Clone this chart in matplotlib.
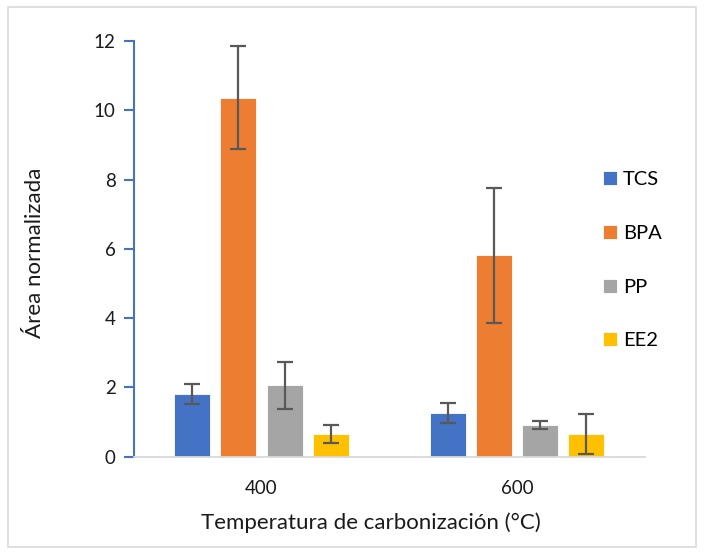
import matplotlib.pyplot as plt
import numpy as np
from matplotlib.patches import Rectangle

plt.rcParams["font.family"] = ["Lato", "DejaVu Sans"]

temperatures = ["400", "600"]
compounds = ["TCS", "BPA", "PP", "EE2"]
colors = ["#4472C4", "#ED7D31", "#A5A5A5", "#FFC000"]

# normalized area per compound, one value per temperature
tcs = [1.81, 1.26]
bpa = [10.37, 5.82]
pp = [2.06, 0.91]
ee2 = [0.66, 0.65]
values = [tcs, bpa, pp, ee2]

tcs_err = [0.29, 0.28]
bpa_err = [1.49, 1.95]
pp_err = [0.67, 0.12]
ee2_err = [0.25, 0.57]
errors = [tcs_err, bpa_err, pp_err, ee2_err]

text_col = "#1a1a1a"

fig = plt.figure(figsize=(7.04, 5.54), dpi=100)
ax = fig.add_axes([0.190, 0.1756, 0.726, 0.75])

x = np.arange(len(temperatures))
step = 0.181
width = 0.141
for i, (name, vals, errs, col) in enumerate(zip(compounds, values, errors, colors)):
    pos = x + (i - 1.5) * step
    ax.bar(pos, vals, width, color=col, label=name, edgecolor="white", linewidth=0.6, zorder=2)
    ax.errorbar(pos, vals, yerr=errs, fmt="none", ecolor="#595959", elinewidth=1.6,
                capsize=5.5, capthick=1.6, zorder=3)

ax.set_xlim(-0.5, 1.5)
ax.set_ylim(0, 12)
ax.set_yticks(range(0, 13, 2))
ax.set_xticks(x)
ax.set_xticklabels(temperatures)

for side in ("top", "right"):
    ax.spines[side].set_visible(False)
ax.spines["left"].set_color("#4472C4")
ax.spines["left"].set_linewidth(1.5)
ax.spines["bottom"].set_color("#D9D9D9")
ax.spines["bottom"].set_linewidth(1.3)
ax.tick_params(axis="y", colors="#4472C4", length=7, width=1.5, pad=6, labelsize=13.5, labelcolor=text_col)
ax.tick_params(axis="x", length=0, pad=17, labelsize=13.5, labelcolor=text_col)

ax.set_ylabel("Área normalizada", fontsize=16, color=text_col, va="center")
ax.yaxis.set_label_coords(-0.194, 0.49)
ax.set_xlabel("Temperatura de carbonización (°C)", fontsize=16, color=text_col, va="center")
ax.xaxis.set_label_coords(0.464, -0.159)

leg = ax.legend(loc="upper left", bbox_to_anchor=(0.902, 0.707), frameon=False, fontsize=14.5,
                handlelength=0.7, handleheight=0.7, handletextpad=0.3, labelspacing=1.82,
                borderaxespad=0)

fig.patches.append(Rectangle((0.012, 0.012), 0.976, 0.976, transform=fig.transFigure,
                             fill=False, edgecolor="#D9D9D9", linewidth=1.2))

fig.savefig("out.png", dpi=100)
